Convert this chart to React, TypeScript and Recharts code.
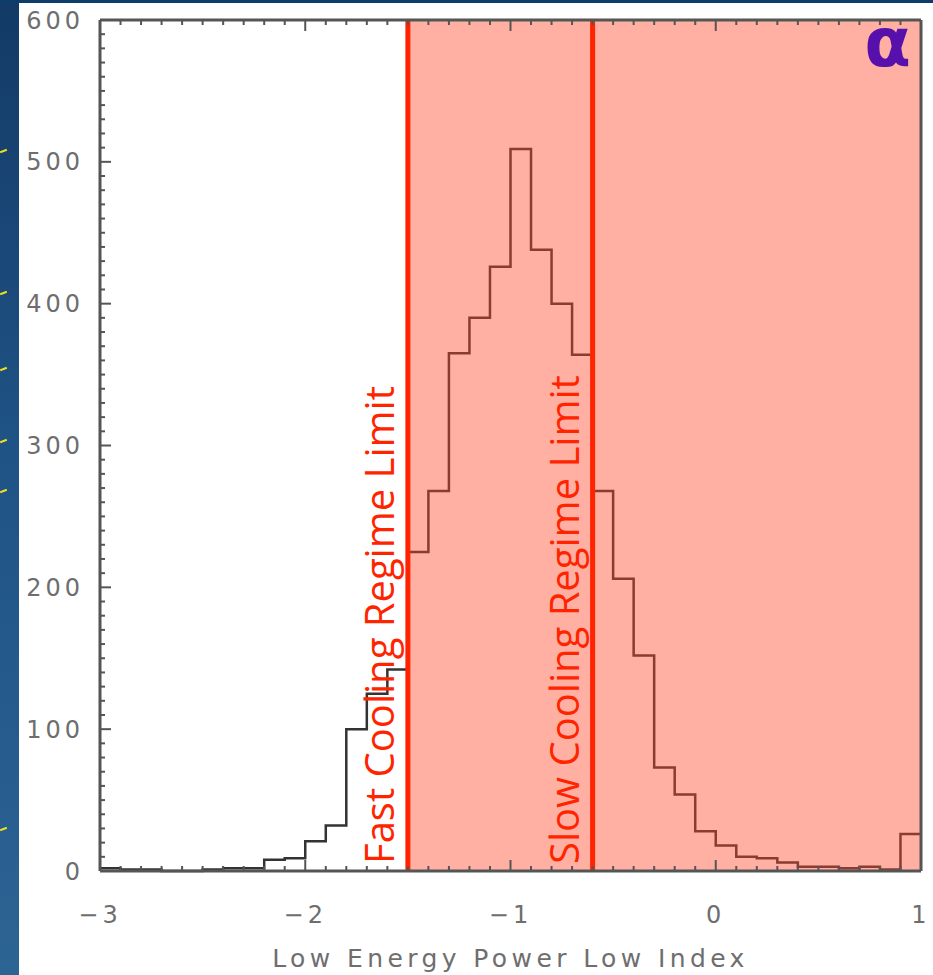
import React from 'react';
import { ComposedChart, Line, XAxis, YAxis, ReferenceArea, ReferenceLine } from 'recharts';

// Histogram of the low-energy power-law index: left edge of each 0.1-wide bin and its count
const binLeft = [
  -3.0, -2.9, -2.8, -2.7, -2.6, -2.5, -2.4, -2.3, -2.2, -2.1,
  -2.0, -1.9, -1.8, -1.7, -1.6, -1.5, -1.4, -1.3, -1.2, -1.1,
  -1.0, -0.9, -0.8, -0.7, -0.6, -0.5, -0.4, -0.3, -0.2, -0.1,
  0.0, 0.1, 0.2, 0.3, 0.4, 0.5, 0.6, 0.7, 0.8, 0.9,
];
const counts = [
  2, 1, 1, 0, 0, 1, 2, 2, 8, 9,
  21, 32, 100, 125, 142, 225, 268, 365, 390, 426,
  509, 438, 400, 364, 268, 206, 152, 73, 54, 28,
  18, 10, 9, 6, 3, 3, 2, 3, 1, 26,
];
const histogramEnd = 1.0;

const xMajorTicks = [-3, -2, -1, 0, 1];
const yMajorTicks = [0, 100, 200, 300, 400, 500, 600];

const fastCoolingLimit = -1.5;
const slowCoolingLimit = -0.6;
const fastLabel = 'Fast Cooling Regime Limit';
const slowLabel = 'Slow Cooling Regime Limit';
const xTitle = 'Low Energy Power Low Index';
const cornerMark = 'α';

// minor tick positions (every 0.1 on x, every 10 on y); majors are labelled
const xTicks = Array.from({ length: 41 }, (_, i) => Math.round((-3 + i * 0.1) * 10) / 10);
const yTicks = Array.from({ length: 61 }, (_, i) => i * 10);

const rows = binLeft.map((x, i) => ({ x, count: counts[i] }));
rows.push({ x: histogramEnd, count: counts[counts.length - 1] });

const frameColor = '#555';
const textGray = '#6e6e6e';
const fmt = (v: number) => (v < 0 ? `\u2212${Math.abs(v)}` : `${v}`);
const isMajorX = (v: number) => xMajorTicks.some((m) => Math.abs(m - v) < 1e-6);
const isMajorY = (v: number) => yMajorTicks.includes(v);

// Inward tick marks drawn from the axis position; labels only on majors
type Side = 'bottom' | 'top' | 'left' | 'right';
const FrameTick = (props: any) => {
  const { x, y, payload, side, labelled } = props as { x: number; y: number; payload: any; side: Side; labelled: boolean };
  const v = payload.value;
  const major = side === 'bottom' || side === 'top' ? isMajorX(v) : isMajorY(v);
  const len = major ? 11 : 5;
  let line;
  if (side === 'bottom') line = <line x1={x} y1={y} x2={x} y2={y - len} />;
  else if (side === 'top') line = <line x1={x} y1={y} x2={x} y2={y + len} />;
  else if (side === 'left') line = <line x1={x} y1={y} x2={x + len} y2={y} />;
  else line = <line x1={x} y1={y} x2={x - len} y2={y} />;
  let label = null;
  if (labelled && major) {
    if (side === 'bottom') {
      label = (
        <text x={x} y={y + 52} textAnchor="middle" fill={textGray} fontSize={24} fontFamily="DejaVu Sans" letterSpacing={4}>
          {fmt(v)}
        </text>
      );
    } else if (side === 'left') {
      label = (
        <text x={x - 16} y={y} dy="0.36em" textAnchor="end" fill={textGray} fontSize={24} fontFamily="DejaVu Sans" letterSpacing={4}>
          {fmt(v)}
        </text>
      );
    }
  }
  return (
    <g>
      <g stroke={frameColor} strokeWidth={2}>{line}</g>
      {label}
    </g>
  );
};

const RegimeLabel = (props: any) => {
  const vb = props.viewBox || {};
  const bx = vb.x - 14;
  const by = vb.y + vb.height - 7;
  return (
    <text
      x={bx}
      y={by}
      transform={`rotate(-90 ${bx} ${by})`}
      fill="#ff2400"
      fontSize={40}
      fontFamily="Open Sans"
      textAnchor="start"
    >
      {props.text}
    </text>
  );
};

const CornerMark = (props: any) => {
  const vb = props.viewBox || {};
  return (
    <text
      x={vb.x + vb.width - 10}
      y={vb.y + 46}
      textAnchor="end"
      fill="#5810ad"
      fontSize={68}
      fontWeight={700}
      fontFamily="DejaVu Sans"
    >
      {cornerMark}
    </text>
  );
};

const slideMarks = [150, 292, 368, 440, 490, 828];

export default function App() {
  return (
    <div
      style={{
        position: 'absolute',
        left: 0,
        top: 0,
        width: 933,
        height: 975,
        overflow: 'hidden',
        background: 'linear-gradient(180deg, #133a66 0%, #1f5285 45%, #2c6494 100%)',
      }}
    >
      {slideMarks.map((y) => (
        <div
          key={y}
          style={{
            position: 'absolute',
            left: 0,
            top: y,
            width: 7,
            height: 2,
            background: '#f2e11a',
            transform: 'rotate(-20deg)',
          }}
        />
      ))}
      <div style={{ position: 'absolute', left: 19, top: 0, width: 914, height: 975, background: '#ffffff' }}>
        <ComposedChart width={914} height={975} data={rows} margin={{ top: 19, right: 11, bottom: 0, left: 0 }}>
          <XAxis
            xAxisId="x"
            dataKey="x"
            type="number"
            domain={[-3, 1]}
            ticks={xTicks}
            interval={0}
            tick={(p: any) => <FrameTick {...p} side="bottom" labelled />}
            tickSize={0}
            tickMargin={0}
            tickLine={false}
            axisLine={{ stroke: frameColor, strokeWidth: 3 }}
            height={104}
            orientation="bottom"
            label={{
              value: xTitle,
              position: 'insideBottom',
              offset: 8,
              fill: textGray,
              fontSize: 25,
              fontFamily: 'DejaVu Sans',
              letterSpacing: 4.4,
            }}
          />
          <XAxis
            xAxisId="xTop"
            dataKey="x"
            type="number"
            domain={[-3, 1]}
            ticks={xTicks}
            interval={0}
            tick={(p: any) => <FrameTick {...p} side="top" />}
            tickSize={0}
            tickMargin={0}
            tickLine={false}
            axisLine={{ stroke: frameColor, strokeWidth: 3 }}
            height={1}
            orientation="top"
          />
          <YAxis
            yAxisId="y"
            type="number"
            domain={[0, 600]}
            ticks={yTicks}
            interval={0}
            tick={(p: any) => <FrameTick {...p} side="left" labelled />}
            tickSize={0}
            tickMargin={0}
            tickLine={false}
            axisLine={{ stroke: frameColor, strokeWidth: 3 }}
            width={81}
            orientation="left"
          />
          <YAxis
            yAxisId="yRight"
            type="number"
            domain={[0, 600]}
            ticks={yTicks}
            interval={0}
            tick={(p: any) => <FrameTick {...p} side="right" />}
            tickSize={0}
            tickMargin={0}
            tickLine={false}
            axisLine={{ stroke: frameColor, strokeWidth: 3 }}
            width={1}
            orientation="right"
          />
          <Line
            xAxisId="x"
            yAxisId="y"
            dataKey="count"
            type="stepAfter"
            stroke="#333333"
            strokeWidth={2.5}
            dot={false}
            activeDot={false}
            isAnimationActive={false}
          />
          <ReferenceArea
            xAxisId="x"
            yAxisId="y"
            x1={fastCoolingLimit}
            x2={1}
            y1={0}
            y2={600}
            fill="#ff4828"
            fillOpacity={0.43}
            stroke="none"
            zIndex={450}
            label={(p: any) => <CornerMark {...p} />}
          />
          <ReferenceLine
            xAxisId="x"
            yAxisId="y"
            x={fastCoolingLimit}
            stroke="#ff2400"
            strokeWidth={5}
            zIndex={460}
            label={(p: any) => <RegimeLabel {...p} text={fastLabel} />}
          />
          <ReferenceLine
            xAxisId="x"
            yAxisId="y"
            x={slowCoolingLimit}
            stroke="#ff2400"
            strokeWidth={5}
            zIndex={460}
            label={(p: any) => <RegimeLabel {...p} text={slowLabel} />}
          />
        </ComposedChart>
      </div>
      <div style={{ position: 'absolute', left: 0, top: 0, width: 933, height: 3, background: '#0f3d6b' }} />
    </div>
  );
}
